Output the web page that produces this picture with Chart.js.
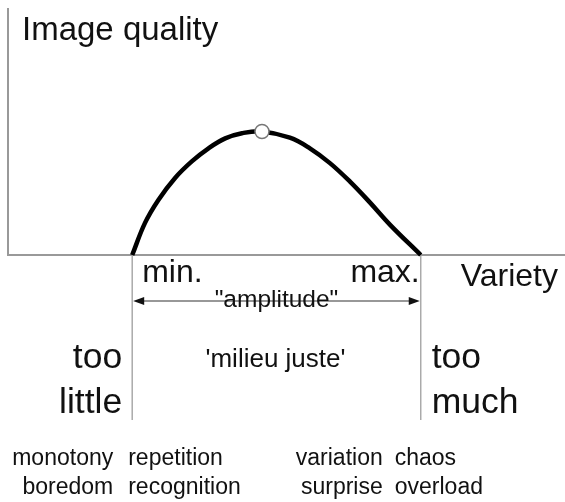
<!DOCTYPE html>
<html>
<head>
<meta charset="utf-8">
<script src="https://cdn.jsdelivr.net/npm/chart.js@4"></script>
<style>
  html, body { margin: 0; padding: 0; background: #fff; }
  #wrap { width: 565px; height: 502px; position: relative; }
</style>
</head>
<body>
<div id="wrap"><canvas id="qualityChart"></canvas></div>
<script>
// curve data (variety vs. image quality, arbitrary 0-10 units)
const varietyValues = [2.23, 2.46, 2.70, 3.00, 3.30, 3.60, 3.90, 4.20, 4.56, 5.06, 5.42, 5.78, 6.14, 6.50, 6.86, 7.41];
const qualityValues = [0, 1.30, 2.23, 3.12, 3.79, 4.32, 4.72, 4.93, 5.00, 4.75, 4.32, 3.72, 2.97, 2.12, 1.22, 0];
const peakPoint = [4.56, 5.0];
const rangeBounds = [2.23, 7.41]; // min., max.

const axisTitles = ['Image quality', 'Variety'];
const boundLabels = ['min.', 'max.'];
const zoneLabels = ['too\nlittle', "'milieu juste'", 'too\nmuch'];
const effectLabels = [
  ['monotony', 'boredom'],
  ['repetition', 'recognition'],
  ['variation', 'surprise'],
  ['chaos', 'overload']
];

const FONT = '"Liberation Sans", Arial, sans-serif';
const TEXT = '#111';

// axes, bounds and arrow under the curve
const framePlugin = {
  id: 'frame',
  beforeDatasetsDraw(chart) {
    const { ctx, chartArea } = chart;
    const xs = chart.scales.x;
    const xMin = xs.getPixelForValue(rangeBounds[0]);
    const xMax = xs.getPixelForValue(rangeBounds[1]);
    const base = chartArea.bottom;

    ctx.save();
    ctx.strokeStyle = '#999';
    ctx.lineWidth = 2;
    ctx.beginPath();
    ctx.moveTo(chartArea.left, chartArea.top);
    ctx.lineTo(chartArea.left, base);
    ctx.lineTo(chartArea.right, base);
    ctx.stroke();

    // bound lines
    ctx.strokeStyle = '#aaa';
    ctx.lineWidth = 1.5;
    [xMin, xMax].forEach(px => {
      ctx.beginPath();
      ctx.moveTo(px, base);
      ctx.lineTo(px, base + 165);
      ctx.stroke();
    });

    // amplitude arrow
    const ay = base + 46;
    ctx.strokeStyle = '#333';
    ctx.fillStyle = '#111';
    ctx.lineWidth = 1.2;
    ctx.beginPath();
    ctx.moveTo(xMin + 4, ay);
    ctx.lineTo(xMax - 4, ay);
    ctx.stroke();
    [[xMin + 1, 1], [xMax - 1, -1]].forEach(([px, dir]) => {
      ctx.beginPath();
      ctx.moveTo(px, ay);
      ctx.lineTo(px + dir * 11, ay - 4);
      ctx.lineTo(px + dir * 11, ay + 4);
      ctx.closePath();
      ctx.fill();
    });
    ctx.restore();
  },

  afterDraw(chart) {
    const { ctx, chartArea } = chart;
    const xs = chart.scales.x;
    const xMin = xs.getPixelForValue(rangeBounds[0]);
    const xMax = xs.getPixelForValue(rangeBounds[1]);
    const mid = (xMin + xMax) / 2;
    const base = chartArea.bottom;

    const put = (text, x, y, size, align) => {
      ctx.font = size + 'px ' + FONT;
      ctx.textAlign = align;
      ctx.fillText(text, x, y);
    };

    ctx.save();
    ctx.fillStyle = TEXT;
    ctx.textBaseline = 'alphabetic';

    put(axisTitles[0], chartArea.left + 14, chartArea.top + 32, 33, 'left');
    put(axisTitles[1], chartArea.right - 7, base + 31, 32, 'right');

    put(boundLabels[0], xMin + 10, base + 27, 32, 'left');
    put(boundLabels[1], xMax - 1, base + 27, 32, 'right');

    put('"amplitude"', mid, base + 52, 24.5, 'center');

    const left = zoneLabels[0].split('\n');
    const right = zoneLabels[2].split('\n');
    left.forEach((t, i) => put(t, xMin - 10, base + 113 + i * 45, 35.5, 'right'));
    right.forEach((t, i) => put(t, xMax + 11, base + 113 + i * 45, 35.5, 'left'));
    put(zoneLabels[1], mid - 1, base + 112, 26, 'center');

    // effect words below
    const rows = [base + 210, base + 239];
    const cols = [
      [xMin - 19, 'right'],
      [xMin - 4, 'left'],
      [xMax - 38, 'right'],
      [xMax - 26, 'left']
    ];
    effectLabels.forEach((pair, c) => {
      pair.forEach((t, r) => put(t, cols[c][0], rows[r], 23, cols[c][1]));
    });
    ctx.restore();
  }
};

const QualityChart = {
  init() {
    const ctx = document.getElementById('qualityChart');
    if (!ctx) return;

    new Chart(ctx, {
      type: 'line',
      data: {
        datasets: [{
          data: varietyValues.map((v, i) => ({ x: v, y: qualityValues[i] })),
          borderColor: '#000',
          borderWidth: 4.5,
          tension: 0.4,
          pointRadius: 0,
          fill: false,
          clip: false,
          order: 2
        }, {
          data: [{ x: peakPoint[0], y: peakPoint[1] }],
          showLine: false,
          pointRadius: 7,
          pointBackgroundColor: '#fff',
          pointBorderColor: '#777',
          pointBorderWidth: 1.5,
          clip: false,
          order: 1
        }]
      },
      options: {
        responsive: true,
        maintainAspectRatio: false,
        animation: false,
        events: [],
        layout: {
          autoPadding: false,
          padding: { top: 8, left: 8, right: 0, bottom: 247 }
        },
        plugins: {
          legend: { display: false },
          tooltip: { enabled: false }
        },
        scales: {
          x: { type: 'linear', min: 0, max: 10, display: false },
          y: { min: 0, max: 10, display: false }
        }
      },
      plugins: [framePlugin]
    });
  }
};

document.addEventListener('DOMContentLoaded', () => {
  QualityChart.init();
});
</script>
</body>
</html>
